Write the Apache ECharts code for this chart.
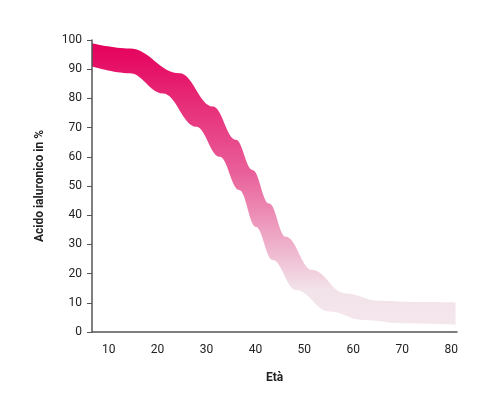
<!DOCTYPE html><html><head><meta charset="utf-8"><script src="https://cdn.jsdelivr.net/npm/echarts@6/dist/echarts.min.js"></script></head><body style="margin:0"><div id="c" style="width:500px;height:418px"></div><script>
const upperX=[6.6,14.3,24.5,31.3,36,39.4,42.8,46.2,51.6,58.4,65.3,72,80.9];
const upperY=[98.9,97.1,88.6,77.2,65.8,55.5,44,32.6,21.2,13.2,10.7,10.3,10.2];
const lowerX=[6.6,14.3,21.1,27.9,32.7,36.7,40.1,43.5,48.3,55.1,61.9,70,80.9];
const lowerY=[90.9,88.6,81.7,70.3,60,48.6,36,24.7,14.4,7,4.1,3,2.5];
const yTicks=[0,10,20,30,40,50,60,70,80,90,100];
const xTicks=[10,20,30,40,50,60,70,80];
const ch=echarts.init(document.getElementById('c'));
const f='Roboto, sans-serif';
ch.setOption({animation:false,
grid:{left:92,right:43,top:40,bottom:86},
xAxis:{type:'value',min:6.6,max:81.2,interval:10,z:10,name:'Età',nameLocation:'middle',nameGap:40,
 nameTextStyle:{fontFamily:f,fontWeight:'bold',fontSize:12,color:'#222'},
 axisLine:{lineStyle:{color:'#555',width:1.5}},axisTick:{show:false},splitLine:{show:false},
 axisLabel:{fontFamily:f,fontSize:12,color:'#222',margin:12,customValues:xTicks}},
yAxis:{type:'value',min:0,max:100,interval:10,z:10,name:'Acido ialuronico in %',nameLocation:'middle',nameGap:46,
 nameTextStyle:{fontFamily:f,fontWeight:'bold',fontSize:12,color:'#222'},
 axisLine:{show:true,lineStyle:{color:'#555',width:1.5}},axisTick:{show:true,length:5,lineStyle:{color:'#555'}},splitLine:{show:false},
 axisLabel:{fontFamily:f,fontSize:12,color:'#222',margin:10}},
series:[
 {type:'line',data:upperX.map((x,i)=>[x,upperY[i]]),smooth:0.4,smoothMonotone:'x',symbol:'none',lineStyle:{width:0},z:2,
  areaStyle:{opacity:1,color:new echarts.graphic.LinearGradient(0,0,0,1,[{offset:0,color:'#e5005b'},{offset:0.45,color:'#e9609a'},{offset:0.85,color:'#f2e2e9'},{offset:1,color:'#f4e8ed'}])}},
 {type:'line',data:lowerX.map((x,i)=>[x,lowerY[i]]),smooth:0.4,smoothMonotone:'x',symbol:'none',lineStyle:{width:0},z:3,
  areaStyle:{opacity:1,color:'#fff'}}
]});
</script></body></html>
